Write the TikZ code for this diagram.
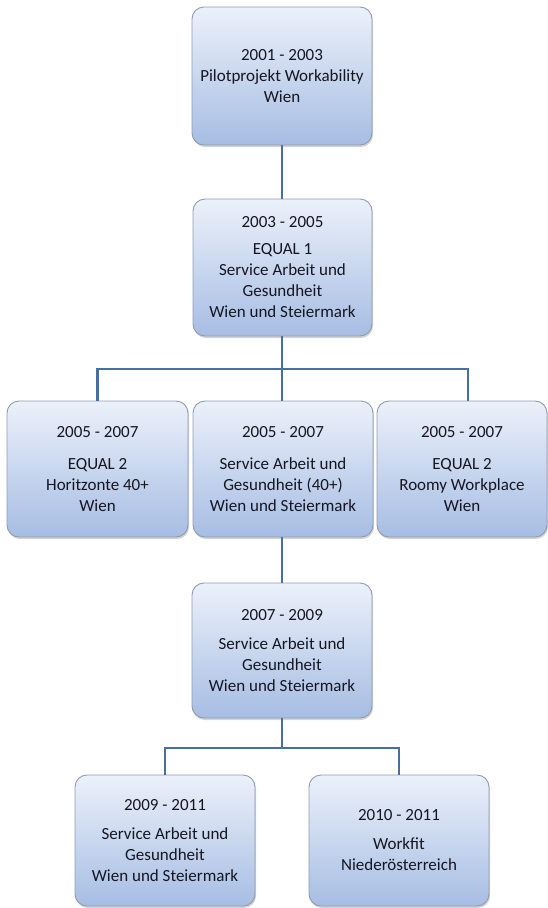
\documentclass[tikz,border=0pt]{standalone}
\usepackage{fontspec}
\setmainfont{Carlito}
\usetikzlibrary{shadows}
\definecolor{boxtop}{RGB}{236,241,250}
\definecolor{boxbot}{RGB}{166,189,227}
\definecolor{boxborder}{RGB}{145,155,175}
\definecolor{linec}{RGB}{70,112,164}
\definecolor{textc}{RGB}{22,22,34}
\tikzset{
  box/.style={draw=boxborder, line width=0.9pt, rounded corners=12pt,
    top color=boxtop, bottom color=boxbot, inner sep=0pt, align=center,
    text=textc, font=\fontsize{17}{21}\selectfont,
    drop shadow={shadow xshift=1pt, shadow yshift=-2pt, opacity=0.35}},
  conn/.style={draw=linec, line width=2.8pt}
}
\begin{document}
\begin{tikzpicture}[x=1pt,y=1pt]
\useasboundingbox (0,0) rectangle (548,-908);
\node[box, minimum width=180pt, minimum height=138pt] (b1) at (282,-76)
  {2001 - 2003\\Pilotprojekt Workability\\Wien};
\node[box, minimum width=179pt, minimum height=137pt] (b2) at (282.5,-267.5)
  {2003 - 2005\\[6pt]EQUAL 1\\Service Arbeit und\\Gesundheit\\Wien und Steiermark};
\node[box, minimum width=181pt, minimum height=136pt] (bl) at (97.5,-469)
  {2005 - 2007\\[11pt]EQUAL 2\\Horitzonte 40+\\Wien};
\node[box, minimum width=180pt, minimum height=136pt] (bm) at (283,-469)
  {2005 - 2007\\[11pt]Service Arbeit und\\Gesundheit (40+)\\Wien und Steiermark};
\node[box, minimum width=170pt, minimum height=136pt] (br) at (462,-469)
  {2005 - 2007\\[11pt]EQUAL 2\\Roomy Workplace\\Wien};
\node[box, minimum width=180pt, minimum height=135pt] (b4) at (282,-650.5)
  {2007 - 2009\\[8pt]Service Arbeit und\\Gesundheit\\Wien und Steiermark};
\node[box, minimum width=180pt, minimum height=131pt] (b5) at (165,-840.5)
  {2009 - 2011\\[8pt]Service Arbeit und\\Gesundheit\\Wien und Steiermark};
\node[box, minimum width=180pt, minimum height=131pt] (b6) at (399,-840.5)
  {2010 - 2011\\[8pt]Workfit\\Niederösterreich};
\coordinate (j1) at (282,-369);
\coordinate (jr) at (468,-369);
\coordinate (j2) at (282,-748);
\draw[conn] (b1.south) -- (b1.south |- b2.north);
\draw[conn] (b2.south -| j1) -- (j1);
\draw[conn] (bl.north) |- (jr) -- (jr |- br.north);
\draw[conn] (j1) -- (j1 |- bm.north);
\draw[conn] (bm.south -| j1) -- (j1 |- b4.north);
\draw[conn] (b4.south) -- (j2);
\draw[conn] (b5.north) |- (j2) -| (b6.north);
\end{tikzpicture}
\end{document}
